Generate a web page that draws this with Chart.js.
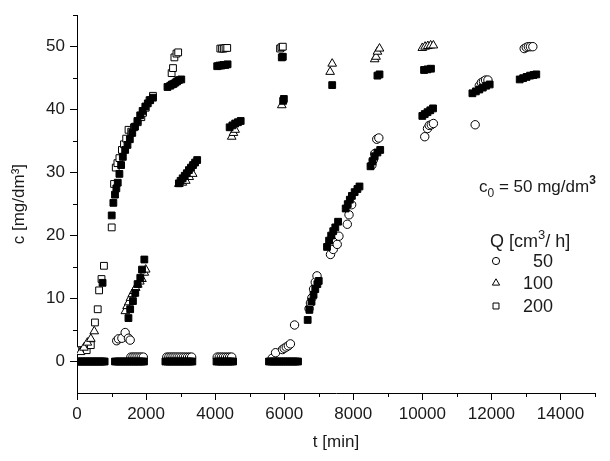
<!DOCTYPE html>
<html>
<head>
<meta charset="utf-8">
<script src="https://cdn.jsdelivr.net/npm/chart.js@4.4.1/dist/chart.umd.min.js"></script>
<style>
html,body{margin:0;padding:0;background:#fff;}
#wrap{position:relative;width:610px;height:461px;}
</style>
</head>
<body>
<div id="wrap"><canvas id="c" width="610" height="461"></canvas></div>
<script>
// ---- data ----
// open circles, Q = 50 cm3/h
const t50 = [1150,1200,1300,1395,1490,1540,
  1560,1620,1680,1740,1800,1860,1920,
  2600,2660,2720,2780,2840,2900,2960,3020,3080,3140,3200,3260,3320,
  4060,4120,4180,4240,4300,4360,4420,4480,
  5650,5750,5950,6000,6060,6120,6180,6300,
  6720,6760,6800,6850,6900,6950,
  7340,7420,7535,7585,7827,7877,7953,
  8540,8580,8620,8680,8740,
  10070,10150,10200,10260,10320,
  11530,
  11650,11710,11770,11830,11900,
  12950,13010,13070,13130,13200];
const c50 = [3.3,3.6,3.7,4.6,3.7,3.4,
  0.7,0.7,0.7,0.7,0.7,0.7,0.7,
  0.7,0.7,0.7,0.7,0.7,0.7,0.7,0.7,0.7,0.7,0.7,0.7,0.7,
  0.7,0.7,0.7,0.7,0.7,0.7,0.7,0.7,
  0.5,1.4,1.9,2.1,2.3,2.5,2.8,5.8,
  8.4,9.3,10.1,11.5,12.6,13.6,
  17.0,17.8,18.6,19.9,21.8,23.3,24.9,
  31.2,32.0,33.0,35.3,35.5,
  35.7,37.0,37.5,37.6,37.8,
  37.6,
  43.8,44.3,44.5,44.7,44.7,
  49.7,49.9,50.0,50.0,50.0];

// open triangles, Q = 100 cm3/h
const t100 = [100,200,300,400,500,
  1400,1450,1500,1550,1600,1650,1700,1760,1820,1880,1950,1990,
  2950,3050,3150,3250,3350,
  4480,4530,4580,
  5930,
  7330,7390,
  8620,8660,8700,8760,
  10000,10080,10160,10240,10320];
const c100 = [1.5,2.2,3.0,3.6,4.8,
  8.0,8.8,9.4,10.1,10.7,11.2,11.7,12.2,12.7,13.1,14.1,14.6,
  28.2,28.4,28.7,29.3,29.8,
  35.7,36.3,36.8,
  40.7,
  46.0,47.3,
  48.0,48.4,49.2,49.7,
  49.8,50.0,50.1,50.2,50.2];

// open squares, Q = 200 cm3/h
const t200 = [50,150,280,400,520,600,640,710,780,
  1005,1073,1122,1170,1228,1300,1360,1424,1492,1570,1650,1760,1863,1912,1990,2100,2200,
  2740,2780,2820,2880,2930,
  4150,4200,4250,4300,4350,
  5880,5920,5960];
const c200 = [1.8,1.8,1.8,2.6,6.2,8.3,11.3,13.1,15.2,
  21.3,28.2,30.8,31.5,32.3,33.6,34.5,35.4,36.8,36.5,37.2,38.0,38.8,39.5,40.3,41.5,42.2,
  45.8,46.6,48.3,48.9,49.1,
  49.7,49.7,49.7,49.8,49.8,
  49.7,49.9,50.0];

// filled squares (not in legend)
const t200f = [0,50,100,150,200,250,300,350,400,450,500,550,600,650,700,750,800,
  740,
  1100,1160,1220,1280,1340,1400,1460,1520,1580,1640,1700,1760,1820,1880,1940,
  1490,1540,1620,1687,1755,1833,1883,1950,
  1005,1053,1100,1140,1180,1228,1278,1327,1395,1462,1530,1600,1680,1750,1830,1900,1980,2050,2120,2200,
  2620,2700,2750,2800,2850,2900,2950,3020,
  2560,2620,2680,2740,2800,2860,2920,2980,3040,3100,3160,3220,3280,3340,
  2950,3000,3060,3120,3180,3240,3300,3360,3420,3480,
  4040,4100,4160,4220,4280,4340,4400,4460,4520,
  4060,4120,4180,4240,4300,4360,
  4420,4500,4580,4660,4740,
  5560,5620,5680,5740,5800,5860,5920,5980,6040,6100,6160,6220,6280,6340,6400,
  5930,5960,
  5970,5990,
  6680,6730,6790,6850,6900,6960,7000,
  7240,7300,7360,7420,7480,7560,
  7390,
  7780,7840,7900,7960,8040,8120,8180,
  8500,8560,8620,8700,8780,
  8700,8760,
  10000,10070,10150,10230,10310,
  10050,10150,10250,
  11450,11550,11650,11750,11850,11950,
  12820,12920,13020,13120,13220,13300];
const c200f = [0,0,0,0,0,0,0,0,0,0,0,0,0,0,0,0,0,
  12.5,
  0,0,0,0,0,0,0,0,0,0,0,0,0,0,0,
  6.9,8.3,9.6,10.9,12.3,13.3,14.6,16.2,
  23.2,25.2,26.5,27.5,28.4,29.8,31.2,32.5,33.6,34.4,35.3,36.3,37.3,38.2,39.1,39.8,40.5,41.0,41.5,41.9,
  43.6,43.8,44.0,44.1,44.3,44.5,44.7,44.8,
  0,0,0,0,0,0,0,0,0,0,0,0,0,0,
  28.3,28.7,29.1,29.5,29.9,30.4,30.8,31.2,31.6,32.0,
  0,0,0,0,0,0,0,0,0,
  46.9,47.0,47.0,47.1,47.1,47.2,
  37.2,37.5,37.8,38.0,38.2,
  0,0,0,0,0,0,0,0,0,0,0,0,0,0,0,
  48.3,48.4,
  41.4,41.7,
  6.6,8.2,9.5,10.6,11.5,12.3,12.8,
  18.2,19.2,20.0,20.7,21.3,22.2,
  43.9,
  24.3,25.0,25.7,26.3,26.9,27.4,27.8,
  31.0,31.8,32.6,33.2,33.6,
  45.4,45.6,
  39.0,39.3,39.6,39.9,40.2,
  46.3,46.4,46.5,
  42.6,42.9,43.2,43.5,43.8,44.0,
  44.8,45.0,45.2,45.4,45.5,45.6];

const xMajorTicks = [0,2000,4000,6000,8000,10000,12000,14000];
const xMinorTicks = [1000,3000,5000,7000,9000,11000,13000,15000];
const yMajorTicks = [0,10,20,30,40,50];
const yMinorTicks = [5,15,25,35,45,55];
const legendLabels = ['50','100','200'];

const pts = (xs, ys) => xs.map((x, i) => ({x: x, y: ys[i]}));

const FONT = "'Liberation Sans', Arial, sans-serif";
Chart.defaults.font.family = FONT;
Chart.defaults.font.size = 17;
Chart.defaults.color = '#1a1a1a';

const extras = {
  id: 'extras',
  afterDraw(chart) {
    const ctx = chart.ctx;
    const xs = chart.scales.x, ys = chart.scales.y;
    ctx.save();
    ctx.strokeStyle = '#000';
    ctx.lineWidth = 1;
    ctx.beginPath();
    xMinorTicks.forEach(v => {
      const px = Math.round(xs.getPixelForValue(v)) + 0.5;
      ctx.moveTo(px, ys.bottom); ctx.lineTo(px, ys.bottom + 4);
    });
    yMinorTicks.forEach(v => {
      const py = Math.round(ys.getPixelForValue(v)) + 0.5;
      ctx.moveTo(xs.left, py); ctx.lineTo(xs.left - 4, py);
    });
    ctx.stroke();

    // annotation c0 = 50 mg/dm3
    ctx.fillStyle = '#1a1a1a';
    ctx.textBaseline = 'alphabetic';
    ctx.textAlign = 'left';
    let x = 479, base = 192;
    ctx.font = '17px ' + FONT;
    ctx.fillText('c', x, base); x += ctx.measureText('c').width;
    ctx.font = '12px ' + FONT;
    ctx.fillText('0', x, base + 5); x += ctx.measureText('0').width;
    ctx.font = '17px ' + FONT;
    const s1 = ' = 50 mg/dm';
    ctx.fillText(s1, x, base); x += ctx.measureText(s1).width;
    ctx.font = 'bold 12px ' + FONT;
    ctx.fillText('3', x, base - 8);

    // legend
    x = 490; base = 247;
    ctx.font = '18px ' + FONT;
    ctx.fillText('Q [cm', x, base); x += ctx.measureText('Q [cm').width;
    ctx.font = '13px ' + FONT;
    ctx.fillText('3', x, base - 8); x += ctx.measureText('3').width;
    ctx.font = '18px ' + FONT;
    ctx.fillText('/ h]', x, base);

    const styles = ['circle', 'triangle', 'rect'];
    const radii = [3.6, 4.2, 4.2];
    const rows = [261, 283, 306];
    ctx.textAlign = 'right';
    ctx.textBaseline = 'middle';
    rows.forEach((ry, i) => {
      ctx.fillStyle = '#fff';
      ctx.strokeStyle = '#000';
      ctx.lineWidth = 1;
      Chart.helpers.drawPoint(ctx, {pointStyle: styles[i], radius: radii[i], rotation: 0, borderWidth: 1}, 496, ry);
      ctx.fillStyle = '#1a1a1a';
      ctx.font = '18px ' + FONT;
      ctx.fillText(legendLabels[i], 553, ry + 1);
    });
    ctx.restore();
  }
};

const common = {showLine: false, borderWidth: 1, borderColor: '#000'};

new Chart(document.getElementById('c'), {
  type: 'scatter',
  data: {
    datasets: [
      Object.assign({}, common, {label: '200 (filled)', data: pts(t200f, c200f), pointStyle: 'rect', pointRadius: 4.8, backgroundColor: '#000'}),
      Object.assign({}, common, {label: legendLabels[0], data: pts(t50, c50), pointStyle: 'circle', pointRadius: 4.2, backgroundColor: '#fff'}),
      Object.assign({}, common, {label: legendLabels[1], data: pts(t100, c100), pointStyle: 'triangle', pointRadius: 5, backgroundColor: '#fff'}),
      Object.assign({}, common, {label: legendLabels[2], data: pts(t200, c200), pointStyle: 'rect', pointRadius: 4.8, backgroundColor: '#fff'})
    ]
  },
  options: {
    responsive: false,
    animation: false,
    events: [],
    layout: {padding: {left: 0, top: 13, right: 15, bottom: 0}},
    plugins: {legend: {display: false}, tooltip: {enabled: false}},
    scales: {
      x: {
        type: 'linear', min: 0, max: 15000,
        afterBuildTicks: s => { s.ticks = xMajorTicks.map(v => ({value: v})); },
        afterFit: s => { s.height = 68; },
        ticks: {padding: 4, maxRotation: 0, autoSkip: false, callback: v => String(v)},
        grid: {display: true, drawOnChartArea: false, drawTicks: true, tickLength: 7, color: '#000'},
        border: {display: true, color: '#000', width: 1},
        title: {display: true, text: 't [min]', padding: {top: 0, bottom: 8}}
      },
      y: {
        type: 'linear', min: -5, max: 55,
        afterBuildTicks: s => { s.ticks = yMajorTicks.map(v => ({value: v})); },
        afterFit: s => { s.width = 77; },
        ticks: {padding: 5, autoSkip: false, callback: v => String(v)},
        grid: {display: true, drawOnChartArea: false, drawTicks: true, tickLength: 7, color: '#000'},
        border: {display: true, color: '#000', width: 1},
        title: {display: true, text: 'c [mg/dm³]', padding: {top: 9, bottom: 0}}
      }
    }
  },
  plugins: [extras]
});
</script>
</body>
</html>
